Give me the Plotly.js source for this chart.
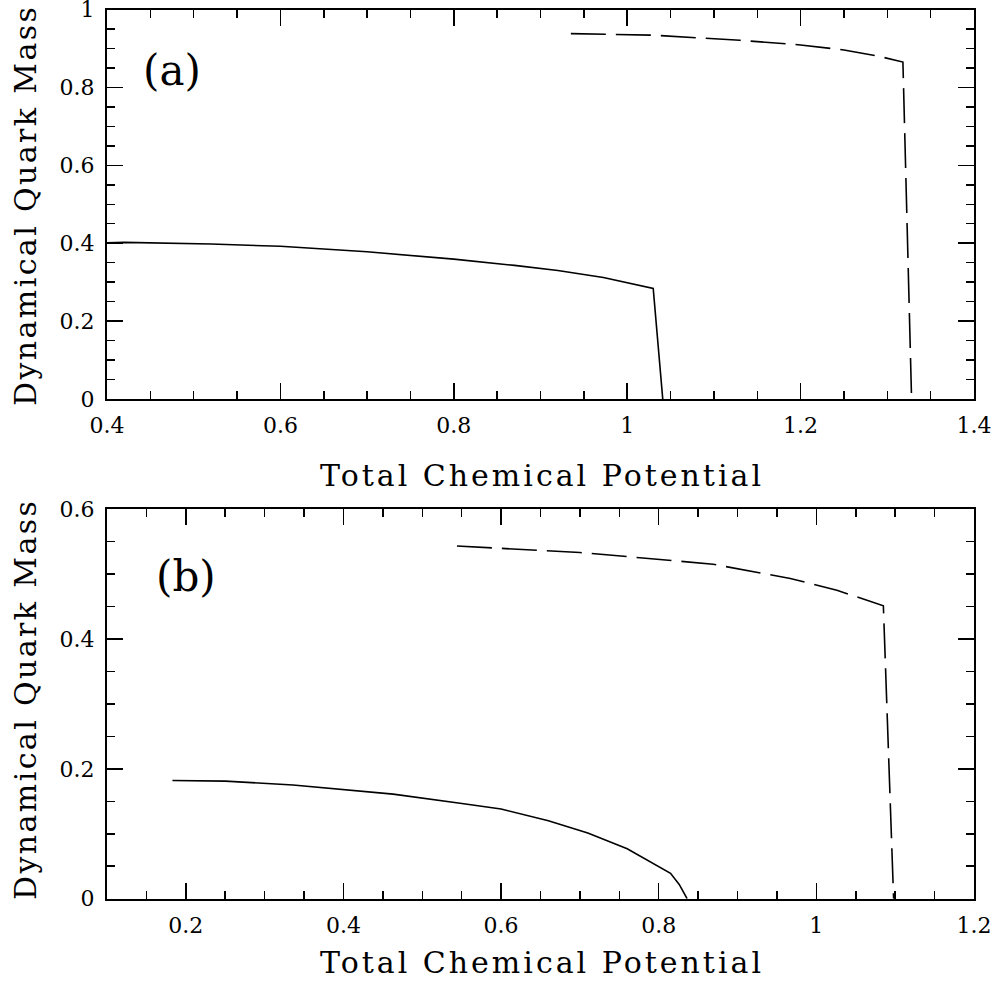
<!DOCTYPE html>
<html>
<head>
<meta charset="utf-8">
<script src="https://cdn.plot.ly/plotly-3.0.1.min.js"></script>
<style>html,body{margin:0;padding:0;background:#fff;}#chart{width:998px;height:982px;}</style>
</head>
<body>
<div id="chart"></div>
<script>
// Panel (a)
const aSolidX = [0.400, 0.420, 0.520, 0.600, 0.700, 0.800, 0.870, 0.920, 0.9725, 1.030, 1.041];
const aSolidY = [0.401, 0.402, 0.398, 0.392, 0.378, 0.359, 0.343, 0.330, 0.312, 0.284, 0.000];
const aDashX  = [0.935, 1.030, 1.130, 1.200, 1.250, 1.290, 1.318, 1.328];
const aDashY  = [0.938, 0.934, 0.921, 0.909, 0.896, 0.880, 0.865, 0.000];
// Panel (b)
const bSolidX = [0.183, 0.250, 0.336, 0.463, 0.548, 0.600, 0.660, 0.710, 0.760, 0.815, 0.826, 0.836];
const bSolidY = [0.182, 0.181, 0.175, 0.161, 0.147, 0.138, 0.120, 0.101, 0.077, 0.039, 0.022, 0.000];
const bDashX  = [0.544, 0.700, 0.776, 0.869, 0.967, 1.026, 1.085, 1.098];
const bDashY  = [0.543, 0.533, 0.525, 0.515, 0.493, 0.475, 0.451, 0.000];

const xTitle = "Total Chemical Potential";
const yTitle = "Dynamical Quark Mass";
const panelLabels = ["(a)", "(b)"];

const FONT = "DejaVu Serif";
const solid = {color: "black", width: 1.6, dash: "solid"};
const dashed = {color: "black", width: 1.6, dash: "35px,10px"};

const traces = [
  {x: aSolidX, y: aSolidY, mode: "lines", line: solid, xaxis: "x", yaxis: "y", showlegend: false},
  {x: aDashX, y: aDashY, mode: "lines", line: dashed, xaxis: "x", yaxis: "y", showlegend: false},
  {x: bSolidX, y: bSolidY, mode: "lines", line: solid, xaxis: "x2", yaxis: "y2", showlegend: false},
  {x: bDashX, y: bDashY, mode: "lines", line: dashed, xaxis: "x2", yaxis: "y2", showlegend: false}
];

function ax(range, dtick, minorDtick, domain, anchor) {
  return {
    range: range, domain: domain, anchor: anchor, dtick: dtick, tick0: 0,
    ticks: "inside", ticklen: 16, tickwidth: 1.5, tickcolor: "black",
    minor: {dtick: minorDtick, tick0: 0, ticks: "inside", ticklen: 8, tickwidth: 1.5, tickcolor: "black", showgrid: false},
    showline: true, linecolor: "black", linewidth: 2, mirror: "ticks",
    showgrid: false, zeroline: false, fixedrange: true,
    tickfont: {family: FONT, size: 22, color: "black"},
    ticklabelstandoff: 6, ticklabeloverflow: "allow"
  };
}

const xd = [107/998, 974/998];
const TF = {family: FONT, size: 30, color: "black"};
const layout = {
  width: 998, height: 982,
  margin: {l: 0, r: 0, t: 0, b: 0},
  paper_bgcolor: "white", plot_bgcolor: "white",
  showlegend: false,
  xaxis: ax([0.4, 1.4], 0.2, 0.05, xd, "y"),
  yaxis: ax([0, 1.000001], 0.2, 0.05, [1 - 399/982, 1 - 9.5/982], "x"),
  xaxis2: ax([0.1, 1.2], 0.2, 0.05, xd, "y2"),
  yaxis2: ax([0, 0.600001], 0.2, 0.05, [1 - 898.7/982, 1 - 509/982], "x2"),
  annotations: [
    {text: xTitle, xref: "paper", yref: "paper", x: 542/998, y: 1 - 476/982, showarrow: false, xanchor: "center", yanchor: "middle", font: TF},
    {text: xTitle, xref: "paper", yref: "paper", x: 542/998, y: 1 - 962/982, showarrow: false, xanchor: "center", yanchor: "middle", font: TF},
    {text: yTitle, xref: "paper", yref: "paper", x: 25/998, y: 1 - 206/982, showarrow: false, textangle: -90, xanchor: "center", yanchor: "middle", font: TF},
    {text: yTitle, xref: "paper", yref: "paper", x: 25/998, y: 1 - 700/982, showarrow: false, textangle: -90, xanchor: "center", yanchor: "middle", font: TF},
    {text: panelLabels[0], xref: "paper", yref: "paper", x: 172/998, y: 1 - 70/982, showarrow: false, xanchor: "center", yanchor: "middle", font: {family: FONT, size: 42, color: "black"}},
    {text: panelLabels[1], xref: "paper", yref: "paper", x: 186/998, y: 1 - 576/982, showarrow: false, xanchor: "center", yanchor: "middle", font: {family: FONT, size: 42, color: "black"}}
  ]
};

Plotly.newPlot("chart", traces, layout, {displayModeBar: false, staticPlot: true}).then(function () {
  document.querySelectorAll(".annotation-text").forEach(function (t) {
    const s = t.textContent;
    if (s === xTitle) t.style.letterSpacing = "3px";
    if (s === yTitle) t.style.letterSpacing = "2.4px";
  });
});
</script>
</body>
</html>
